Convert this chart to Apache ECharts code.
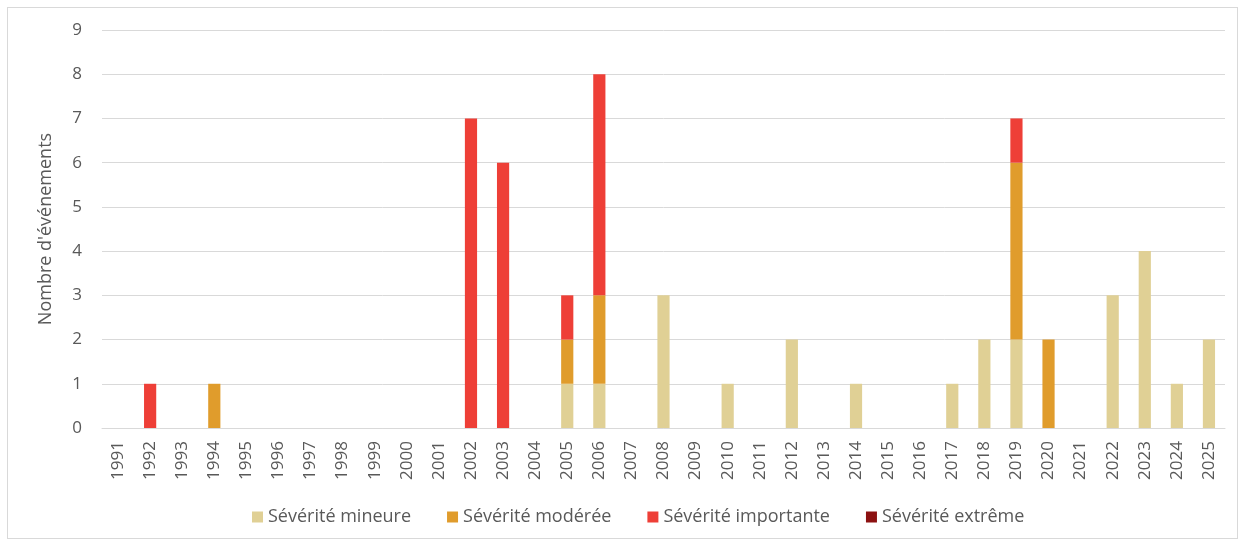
<!DOCTYPE html>
<html>
<head>
<meta charset="utf-8">
<script src="https://cdn.jsdelivr.net/npm/echarts@6/dist/echarts.min.js"></script>
<style>
  html, body { margin: 0; padding: 0; background: #fff; }
  #frame { position: absolute; left: 7px; top: 7px; width: 1231px; height: 532px; border: 1px solid #d9d9d9; box-sizing: border-box; }
  #chart { position: absolute; left: 0; top: 0; width: 1247px; height: 548px; }
</style>
</head>
<body>
<div id="frame"></div>
<div id="chart"></div>
<script>
// années 1991 -> 2025
const years = ['1991','1992','1993','1994','1995','1996','1997','1998','1999','2000',
  '2001','2002','2003','2004','2005','2006','2007','2008','2009','2010',
  '2011','2012','2013','2014','2015','2016','2017','2018','2019','2020',
  '2021','2022','2023','2024','2025']

// nombre d'événements par sévérité
const mineure    = [0,0,0,0,0,0,0,0,0,0, 0,0,0,0,1,1,0,3,0,1, 0,2,0,1,0,0,1,2,2,0, 0,3,4,1,2]
const moderee    = [0,0,0,1,0,0,0,0,0,0, 0,0,0,0,1,2,0,0,0,0, 0,0,0,0,0,0,0,0,4,2, 0,0,0,0,0]
const importante = [0,1,0,0,0,0,0,0,0,0, 0,7,6,0,1,5,0,0,0,0, 0,0,0,0,0,0,0,0,1,0, 0,0,0,0,0]
const extreme    = [0,0,0,0,0,0,0,0,0,0, 0,0,0,0,0,0,0,0,0,0, 0,0,0,0,0,0,0,0,0,0, 0,0,0,0,0]

const textColor = '#595959'
const font = 'Open Sans, Noto Sans, sans-serif'

function serie(name, data, color) {
  return {
    name: name,
    type: 'bar',
    stack: 'total',
    barWidth: '38%',
    itemStyle: { color: color },
    data: data.map(v => v === 0 ? null : v)
  }
}

const chart = echarts.init(document.getElementById('chart'))
chart.setOption({
  animation: false,
  textStyle: { fontFamily: font },
  grid: { left: 102, right: 22, top: 30, bottom: 120 },
  legend: {
    bottom: 17,
    left: 247,
    itemWidth: 11,
    itemHeight: 11,
    itemGap: 36,
    icon: 'rect',
    textStyle: { color: textColor, fontSize: 18, fontFamily: font },
    data: ['Sévérité mineure', 'Sévérité modérée', 'Sévérité importante', 'Sévérité extrême']
  },
  xAxis: {
    type: 'category',
    data: years,
    axisLine: { lineStyle: { color: '#d9d9d9', width: 1 } },
    axisTick: { show: false },
    axisLabel: { color: textColor, fontSize: 17, rotate: 90, margin: 13, interval: 0 }
  },
  yAxis: {
    type: 'value',
    min: 0,
    max: 9,
    interval: 1,
    name: "Nombre d'événements",
    nameLocation: 'middle',
    nameGap: 47,
    nameTextStyle: { color: textColor, fontSize: 18 },
    axisLine: { show: false },
    axisTick: { show: false },
    axisLabel: { color: textColor, fontSize: 17, margin: 20 },
    splitLine: { lineStyle: { color: '#d9d9d9', width: 1 } }
  },
  series: [
    serie('Sévérité mineure', mineure, '#e0d095'),
    serie('Sévérité modérée', moderee, '#e09c2c'),
    serie('Sévérité importante', importante, '#ee3f37'),
    serie('Sévérité extrême', extreme, '#8c1111')
  ]
})
window.addEventListener('resize', () => chart.resize())
</script>
</body>
</html>
